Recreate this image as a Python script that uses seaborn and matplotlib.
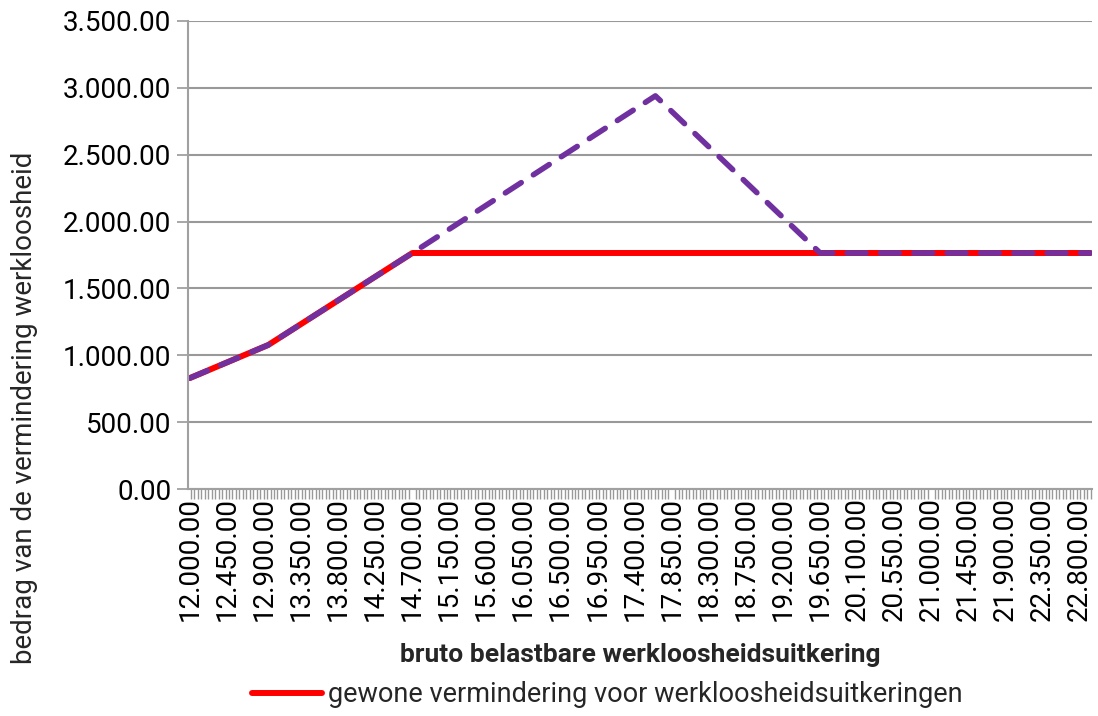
import matplotlib
matplotlib.use("Agg")
import matplotlib.pyplot as plt
import seaborn as sns
import pandas as pd
from matplotlib.ticker import MultipleLocator, FixedLocator, FuncFormatter

# ---- data ----
x_gewone = [12000, 12950, 14700, 22930]
y_gewone = [830, 1077, 1765, 1765]
x_verhoogd = [12000, 12950, 14700, 17650, 19650, 22930]
y_verhoogd = [830, 1077, 1765, 2940, 1765, 1765]
x_tick_values = list(range(12000, 22801, 450))
y_tick_values = [0, 500, 1000, 1500, 2000, 2500, 3000, 3500]
label_gewone = "gewone vermindering voor werkloosheidsuitkeringen"
label_verhoogd = "verhoogde vermindering"
x_title = "bruto belastbare werkloosheidsuitkering"
y_title = "bedrag van de vermindering werkloosheid"

sns.set_theme(style="white")
plt.rcParams["font.family"] = ["Roboto", "DejaVu Sans"]

df_g = pd.DataFrame({"x": x_gewone, "y": y_gewone})
df_v = pd.DataFrame({"x": x_verhoogd, "y": y_verhoogd})

fig = plt.figure(figsize=(10.98, 7.16), dpi=100)
ax = fig.add_axes([188 / 1098, 1 - 489 / 716, (1092 - 188) / 1098, (489 - 21) / 716])

sns.lineplot(data=df_g, x="x", y="y", ax=ax, color="#FF0000", linewidth=4.3,
             label=label_gewone, solid_capstyle="round")
sns.lineplot(data=df_v, x="x", y="y", ax=ax, color="#7030A0", linewidth=4.0,
             label=label_verhoogd)
line_v = ax.lines[-1]
line_v.set_dashes([3.4, 2.6])
line_v.set_dash_capstyle("round")

def fmt(v, pos=None):
    s = f"{v:,.2f}"
    return s.replace(",", ".")

ax.set_xlim(11976, 22950)
ax.set_ylim(0, 3500)
ax.xaxis.set_major_locator(FixedLocator(x_tick_values))
ax.xaxis.set_major_formatter(FuncFormatter(fmt))
ax.xaxis.set_minor_locator(MultipleLocator(42))
ax.yaxis.set_major_locator(FixedLocator(y_tick_values))
ax.yaxis.set_major_formatter(FuncFormatter(fmt))

ax.tick_params(axis="x", which="both", bottom=True)
ax.tick_params(axis="y", which="major", left=True)
ax.tick_params(axis="x", which="major", length=0, labelsize=20, labelrotation=90,
               labelcolor="#000000", pad=6)
ax.tick_params(axis="x", which="minor", length=7, width=1.0, color="#999999", direction="out")
ax.tick_params(axis="y", which="major", length=8, width=1.3, color="#A0A0A0",
               labelsize=20, labelcolor="#000000", direction="out", pad=4)

ax.grid(axis="y", color="#999999", linewidth=1.5)
ax.grid(axis="x", visible=False)
for side in ["top", "right"]:
    ax.spines[side].set_visible(False)
for side in ["left", "bottom"]:
    ax.spines[side].set_color("#A0A0A0")
    ax.spines[side].set_linewidth(1.5)
ax.set_axisbelow(True)

ax.set_xlabel(x_title, fontsize=19, fontweight="bold")
ax.set_ylabel(y_title, fontsize=20)
ax.xaxis.set_label_coords(0.5, -(655 - 489) / 468, transform=ax.transAxes)
ax.xaxis.label.set_va("center")
ax.yaxis.set_label_coords(-(188 - 25) / 904, (489 - 407.5) / 468, transform=ax.transAxes)
ax.yaxis.label.set_va("center")

ax.get_legend().remove()
handles, labels = ax.get_legend_handles_labels()
fig.legend(handles[:1], labels[:1], loc="center", bbox_to_anchor=(0.553, 1 - 695 / 716),
           frameon=False, fontsize=19.5, handlelength=2.6, handletextpad=0.2)

fig.savefig("out.png", dpi=100)
